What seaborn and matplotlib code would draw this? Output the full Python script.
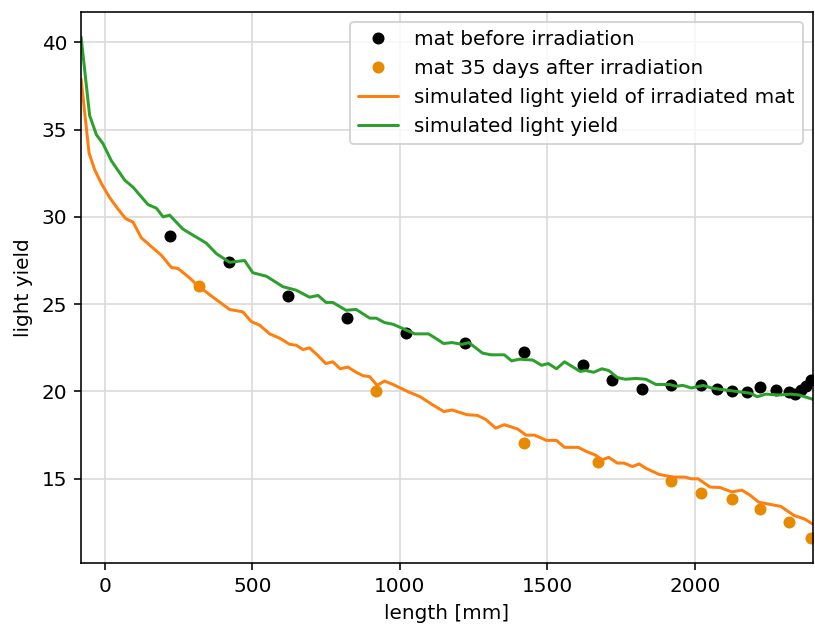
import numpy as np
import pandas as pd
import matplotlib
matplotlib.use("Agg")
import matplotlib.pyplot as plt
import seaborn as sns

# measured mat (before irradiation)
before_x = [220, 420, 620, 820, 1020, 1220, 1420, 1620, 1720, 1820, 1920, 2020,
            2075, 2125, 2175, 2220, 2275, 2320, 2340, 2360, 2375, 2395]
before_y = [28.9, 27.4, 25.45, 24.2, 23.35, 22.75, 22.25, 21.5, 20.65, 20.15, 20.4,
            20.35, 20.15, 20.0, 19.95, 20.25, 20.1, 19.95, 19.85, 20.1, 20.3, 20.65]

# measured mat 35 days after irradiation
after_x = [320, 920, 1420, 1670, 1920, 2020, 2125, 2220, 2320, 2395]
after_y = [26.05, 20.0, 17.05, 15.95, 14.9, 14.2, 13.85, 13.25, 12.55, 11.6]

# simulation, irradiated mat
sim_irr_x = [-80, -53, -34, -11, 17, 45, 71, 96, 124, 158, 192, 226, 248, 288, 316,
             367, 423, 468, 497, 525, 559, 593, 627, 649, 672, 694, 723, 749, 773,
             798, 824, 852, 876, 898, 923, 948, 977, 1029, 1069, 1109, 1149, 1177,
             1228, 1263, 1291, 1325, 1354, 1399, 1428, 1457, 1497, 1531, 1558, 1605,
             1634, 1663, 1685, 1708, 1737, 1760, 1788, 1811, 1834, 1879, 1925, 1965,
             1988, 2011, 2051, 2085, 2125, 2159, 2188, 2216, 2256, 2291, 2336, 2371, 2400]
sim_irr_y = [37.9, 33.65, 32.7, 31.9, 31.1, 30.45, 29.9, 29.7, 28.8, 28.3, 27.8, 27.1,
             27.05, 26.5, 26.05, 25.4, 24.7, 24.56, 24.0, 23.8, 23.3, 23.05, 22.7, 22.65,
             22.4, 22.5, 22.05, 21.6, 21.7, 21.3, 21.4, 21.1, 20.9, 20.85, 20.35, 20.6,
             20.4, 19.98, 19.7, 19.26, 18.85, 18.94, 18.67, 18.63, 18.4, 17.9, 18.1,
             17.85, 17.5, 17.5, 17.2, 17.2, 16.8, 16.8, 16.55, 16.36, 16.08, 16.23, 15.9,
             15.9, 15.7, 15.85, 15.6, 15.25, 15.1, 15.1, 15.0, 15.0, 14.53, 14.5, 14.25,
             14.35, 14.05, 13.66, 13.53, 13.42, 12.9, 12.7, 12.4]

# simulation, new mat
sim_x = [-80, -51, -28, -6, 23, 68, 96, 147, 175, 198, 220, 265, 344, 378, 423, 474,
         502, 548, 604, 649, 694, 723, 750, 773, 818, 852, 898, 920, 948, 977, 1011,
         1051, 1097, 1126, 1148, 1177, 1211, 1234, 1280, 1309, 1354, 1379, 1405, 1451,
         1480, 1503, 1531, 1558, 1611, 1630, 1657, 1685, 1708, 1737, 1765, 1799, 1834,
         1868, 1914, 1937, 1959, 1988, 2028, 2056, 2096, 2142, 2188, 2211, 2240, 2285,
         2325, 2353, 2400]
sim_y = [40.3, 35.8, 34.7, 34.2, 33.2, 32.1, 31.7, 30.7, 30.5, 30.0, 30.1, 29.3, 28.5,
         27.9, 27.4, 27.5, 26.8, 26.6, 26.0, 25.8, 25.4, 25.5, 25.1, 25.1, 24.65, 24.7,
         24.2, 24.2, 23.95, 23.85, 23.6, 23.3, 23.3, 23.0, 22.75, 22.8, 22.7, 22.8, 22.2,
         22.1, 22.1, 21.75, 21.85, 21.8, 21.5, 21.6, 21.3, 21.7, 21.15, 21.2, 21.1, 21.3,
         21.2, 20.8, 20.7, 20.75, 20.7, 20.4, 20.4, 20.3, 20.35, 20.2, 20.35, 20.2, 20.1,
         20.0, 19.9, 19.7, 19.85, 19.8, 19.85, 19.8, 19.55]

sns.set_style("ticks", {"axes.grid": True, "grid.color": ".85",
                        "axes.edgecolor": "black", "text.color": "black",
                        "axes.labelcolor": "black", "xtick.color": "black",
                        "ytick.color": "black"})
plt.rcParams["font.family"] = ["DejaVu Sans"]
plt.rcParams["font.size"] = 10

DPI = 144
fig, ax = plt.subplots(figsize=(815 / DPI, 630 / DPI), dpi=DPI)
fig.subplots_adjust(left=0.0995, right=0.9975, top=0.981, bottom=0.106)

sns.lineplot(x=before_x, y=before_y, ax=ax, color="black", marker="o", markersize=6,
             markeredgewidth=0, linestyle="", label="mat before irradiation")
sns.lineplot(x=after_x, y=after_y, ax=ax, color="#e68a00", marker="o", markersize=6,
             markeredgewidth=0, linestyle="", label="mat 35 days after irradiation")
sns.lineplot(x=sim_irr_x, y=sim_irr_y, ax=ax, color="tab:orange", linewidth=1.5,
             label="simulated light yield of irradiated mat")
sns.lineplot(x=sim_x, y=sim_y, ax=ax, color="tab:green", linewidth=1.5,
             label="simulated light yield")

ax.set_xlim(-80, 2400)
ax.set_xlabel("length [mm]")
ax.set_ylabel("light yield")
ax.legend(loc="upper right")

fig.savefig("out.png", dpi=DPI)
